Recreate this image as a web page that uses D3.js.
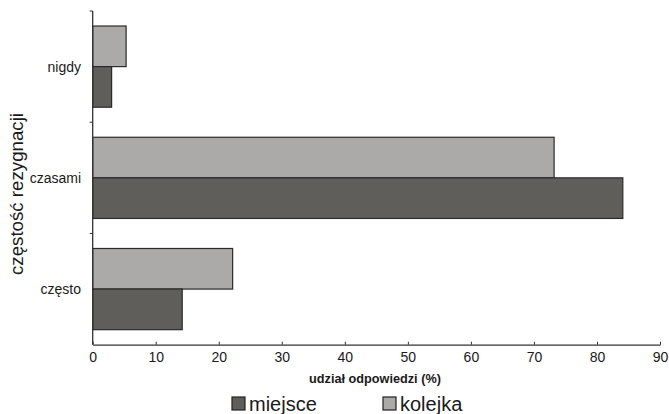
<!DOCTYPE html>
<html>
<head>
<meta charset="utf-8">
<script src="https://cdn.jsdelivr.net/npm/d3@7"></script>
<style>
  body { margin: 0; background: #fff; }
  text { font-family: "Liberation Sans", Arial, sans-serif; fill: #1a1a1a; }
</style>
</head>
<body>
<svg id="chart" width="669" height="414"></svg>
<script>
// Response-frequency categories, top to bottom
const categories = ["nigdy", "czasami", "często"];
// Share of answers (%) for each series
const miejsce = [3, 84.1, 14.2];
const kolejka = [5.3, 73.2, 22.2];
const seriesNames = ["miejsce", "kolejka"];
const xTicks = [0, 10, 20, 30, 40, 50, 60, 70, 80, 90];

const colors = { miejsce: "#5f5e5a", kolejka: "#abaaa8" };

const svg = d3.select("#chart");
const plot = { left: 92.7, right: 660, top: 11, bottom: 344.7 };

const x = d3.scaleLinear().domain([0, 90]).range([plot.left, plot.right]);
const y = d3.scaleBand().domain(categories).range([plot.top, plot.bottom]).paddingInner(0).paddingOuter(0);
const inner = d3.scaleBand().domain(["kolejka", "miejsce"]).range([0, y.bandwidth()]).paddingOuter(0.37).paddingInner(0);

const rows = categories.map((c, i) => ({ cat: c, miejsce: miejsce[i], kolejka: kolejka[i] }));

// Bars
const g = svg.append("g");
rows.forEach(r => {
  ["kolejka", "miejsce"].forEach(s => {
    g.append("rect")
      .attr("x", x(0))
      .attr("y", y(r.cat) + inner(s))
      .attr("width", x(r[s]) - x(0))
      .attr("height", inner.bandwidth())
      .attr("fill", colors[s])
      .attr("stroke", "#2a2a2a")
      .attr("stroke-width", 1.2);
  });
});

// X axis
const xAxis = d3.axisBottom(x).tickValues(xTicks).tickSizeInner(-3).tickSizeOuter(0).tickPadding(5);
const gx = svg.append("g").attr("transform", `translate(0,${plot.bottom})`).call(xAxis);
gx.select(".domain").attr("stroke", "#333").attr("stroke-width", 1.3);
gx.selectAll(".tick line").attr("stroke", "#333");
gx.selectAll(".tick text").attr("font-size", 14).attr("dy", "0.85em")
  .style("font-family", "Liberation Sans, Arial, sans-serif").attr("fill", "#1a1a1a");

// Y axis: line with ticks at category boundaries
svg.append("line").attr("x1", plot.left).attr("x2", plot.left).attr("y1", plot.top).attr("y2", plot.bottom)
  .attr("stroke", "#333").attr("stroke-width", 1.3);
categories.forEach(c => {
  svg.append("line").attr("x1", plot.left - 3).attr("x2", plot.left).attr("y1", y(c)).attr("y2", y(c))
    .attr("stroke", "#333").attr("stroke-width", 1);
});

// Category labels
categories.forEach(c => {
  svg.append("text")
    .attr("x", 81)
    .attr("y", y(c) + y.bandwidth() / 2)
    .attr("dy", "0.35em")
    .attr("text-anchor", "end")
    .attr("font-size", 14)
    .text(c);
});

// Axis titles
svg.append("text")
  .attr("x", 375).attr("y", 383)
  .attr("text-anchor", "middle")
  .attr("font-size", 12.7).attr("font-weight", "bold")
  .text("udział odpowiedzi (%)");

svg.append("text")
  .attr("transform", "translate(23,194) rotate(-90)")
  .attr("text-anchor", "middle")
  .attr("font-size", 18.7)
  .text("częstość rezygnacji");

// Legend
const legendX = [232, 383];
seriesNames.forEach((s, i) => {
  const lg = svg.append("g").attr("transform", `translate(${legendX[i]},397)`);
  lg.append("rect").attr("x", 0).attr("y", 0).attr("width", 13).attr("height", 13)
    .attr("fill", colors[s]).attr("stroke", "#222").attr("stroke-width", 1.2);
  lg.append("text").attr("x", 17).attr("y", 13.5).attr("font-size", 20).text(s);
});
</script>
</body>
</html>
